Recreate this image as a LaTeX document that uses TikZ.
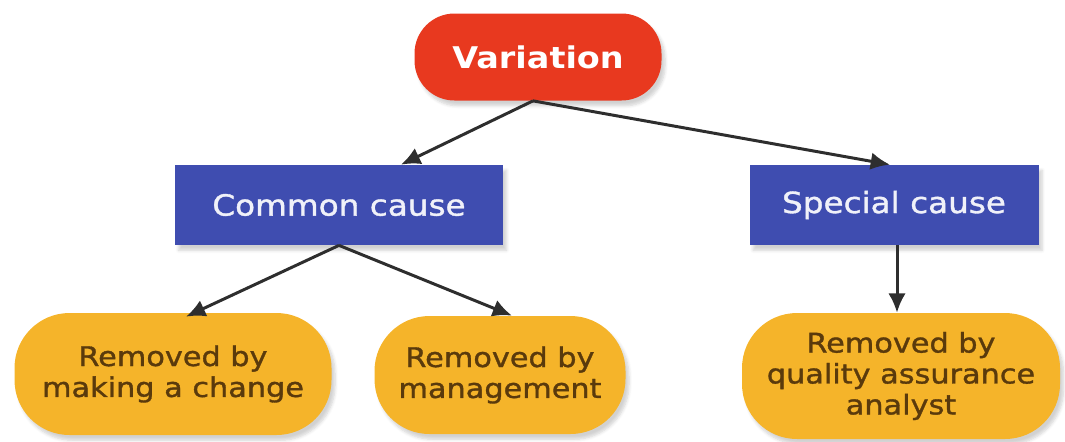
\documentclass[tikz,border=0pt]{standalone}
\usepackage{fontspec}
\newfontfamily\diagfont[FakeStretch=1.12]{DejaVu Sans}
\newfontfamily\diagmedium[FakeStretch=1.12, FakeBold=1.2]{DejaVu Sans}
\usetikzlibrary{arrows.meta, shadows.blur}
\definecolor{varred}{HTML}{E8391F}
\definecolor{causeblue}{HTML}{3F4DB0}
\definecolor{fixorange}{HTML}{F5B42A}
\definecolor{fixtext}{HTML}{5A3A0C}
\definecolor{linkgray}{HTML}{2E2E2E}
\tikzset{shade/.style={blur shadow={shadow xshift=2pt, shadow yshift=-3pt, shadow opacity=18, shadow blur steps=6}}}
\tikzset{root/.style={shade, fill=varred, draw=none, rounded corners=0.8cm, inner sep=0pt,
    minimum width=4.94cm, minimum height=1.74cm, text=white,
    font=\diagfont\bfseries\fontsize{17}{20}\selectfont}}
\tikzset{cause/.style={shade, fill=causeblue, draw=none, inner sep=0pt,
    minimum height=1.6cm, text=white!92!causeblue,
    font=\diagmedium\fontsize{16.6}{20}\selectfont}}
\tikzset{fix/.style={shade, fill=fixorange, draw=none, rounded corners=1.1cm, inner sep=0pt,
    minimum height=2.44cm, text=fixtext, align=center,
    font=\diagmedium\fontsize{15.4}{17.6}\selectfont}}
\tikzset{link/.style={line width=1.7pt, linkgray, -{Latex[length=11pt,width=10pt]}}}

\begin{document}
\begin{tikzpicture}
          \useasboundingbox (0,0) rectangle (21.3,-8.82);
          % Top
          \node[root] (var) at (10.76,-1.14) {Variation};

          % Causes
          \node[cause, minimum width=6.56cm] (common) at (6.78,-4.10) {Common cause};
          \node[cause, minimum width=5.78cm] (special) at (17.88,-4.10) {Special cause};

          % Removal
          \node[fix, minimum width=6.34cm] (change) at (3.46,-7.48) {Removed by\\making a change};
          \node[fix, minimum width=5.02cm, minimum height=2.36cm] (manage) at (10.0,-7.5) {Removed by\\management};
          \node[fix, minimum width=6.36cm, minimum height=2.52cm] (analyst) at (18.02,-7.52) {Removed by\\quality assurance\\analyst};

          % Arrows
          \draw[link] ([xshift=-0.1cm]var.south) -- ([xshift=1.24cm]common.north);
          \draw[link] ([xshift=-0.1cm]var.south) -- ([xshift=-0.08cm]special.north);
          \draw[link] (common.south) -- ([xshift=0.26cm,yshift=-0.08cm]change.north);
          \draw[link] (common.south) -- ([xshift=0.24cm]manage.north);
          \draw[link] ([xshift=0.06cm]special.south) -- ([xshift=0.06cm]special.south |- analyst.north);
\end{tikzpicture}
\end{document}
